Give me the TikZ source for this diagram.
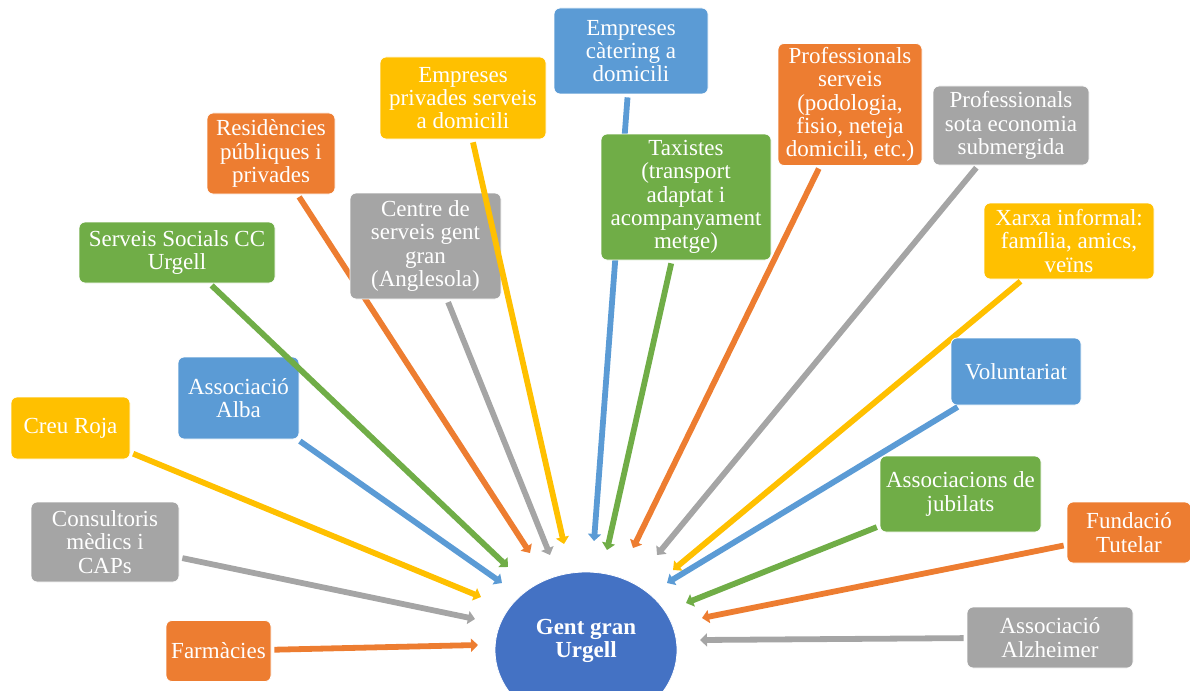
\documentclass[tikz,border=0pt]{standalone}
\usepackage{fontspec}
\setmainfont{Liberation Serif}
\usetikzlibrary{arrows.meta,shapes.geometric}
\definecolor{cOrange}{HTML}{ED7D31}
\definecolor{cGray}{HTML}{A5A5A5}
\definecolor{cYellow}{HTML}{FFC000}
\definecolor{cBlue}{HTML}{5B9BD5}
\definecolor{cGreen}{HTML}{70AD47}
\definecolor{cCenter}{HTML}{4472C4}
\tikzset{
  box/.style={rectangle, rounded corners=6pt, fill=#1, draw=white, line width=0.8pt,
    text=white, align=center, inner sep=0pt,
    font=\fontsize{23}{23.3}\selectfont},
  arr/.style={draw=#1, line width=5.8pt, shorten <=3pt,
    -{Triangle[width=13pt,length=7pt]}},
}
\begin{document}
\begin{tikzpicture}[x=1pt,y=-1pt]
\useasboundingbox (0,0) rectangle (1190,690);
% tips
\coordinate (tFarm) at (478,645);
\coordinate (tCons) at (475,619);
\coordinate (tCreu) at (481,597);
\coordinate (tAlba) at (502,583);
\coordinate (tSoc) at (508,567);
\coordinate (tRes) at (530,553);
\coordinate (tCen) at (550,555);
\coordinate (tPriv) at (564,544);
\coordinate (tCat) at (594,541);
\coordinate (tTaxi) at (607,550);
\coordinate (tProf) at (633,548);
\coordinate (tSub) at (657,555);
\coordinate (tXar) at (673,570);
\coordinate (tVol) at (667,583);
\coordinate (tJub) at (686,603);
\coordinate (tFun) at (702,618);
\coordinate (tAlz) at (700,640);

\node[box=cOrange, minimum width=105pt, minimum height=61pt] (farm) at (218.5,651) {Farmàcies};
\draw[arr=cOrange] (farm) -- (tFarm);
\node[box=cGray, minimum width=148pt, minimum height=80pt] (cons) at (105,542) {Consultoris\\mèdics i\\CAPs};
\draw[arr=cGray] (cons) -- (tCons);
\node[box=cYellow, minimum width=119pt, minimum height=62pt] (creu) at (70.5,428) {Creu Roja};
\draw[arr=cYellow] (creu) -- (tCreu);
\node[box=cBlue, minimum width=121pt, minimum height=82pt] (alba) at (238.5,398) {Associació\\Alba};
\draw[arr=cBlue] (alba) -- (tAlba);
\node[box=cGreen, minimum width=196pt, minimum height=61pt] (soc) at (177,252.5) {Serveis Socials CC\\Urgell};
\draw[arr=cGreen] (soc) -- (tSoc);
\node[box=cOrange, minimum width=128pt, minimum height=81pt] (res) at (271,153.5) {Residències\\públiques i\\privades};
\draw[arr=cOrange] (res) -- (tRes);
\node[box=cGray, minimum width=151pt, minimum height=106pt] (cen) at (425.5,246) {Centre de\\serveis gent\\gran\\(Anglesola)};
\draw[arr=cGray] (cen) -- (tCen);
\node[box=cYellow, minimum width=166pt, minimum height=82pt] (priv) at (463,98) {Empreses\\privades serveis\\a domicili};
\draw[arr=cYellow] (priv) -- (tPriv);
\node[box=cBlue, minimum width=154pt, minimum height=86pt] (cat) at (631,51) {Empreses\\càtering a\\domicili};
\draw[arr=cBlue] (cat) -- (tCat);
\node[box=cGreen, minimum width=170pt, minimum height=126pt] (taxi) at (686,197) {Taxistes\\(transport\\adaptat i\\acompanyament\\metge)};
\draw[arr=cGreen] (taxi) -- (tTaxi);
\node[box=cOrange, minimum width=144pt, minimum height=122pt] (prof) at (850,104.5) {Professionals\\serveis\\(podologia,\\fisio, neteja\\domicili, etc.)};
\draw[arr=cOrange] (prof) -- (tProf);
\node[box=cGray, minimum width=156pt, minimum height=79pt] (sub) at (1011,125.5) {Professionals\\sota economia\\submergida};
\draw[arr=cGray] (sub) -- (tSub);
\node[box=cYellow, minimum width=170pt, minimum height=76pt] (xar) at (1069,241) {Xarxa informal:\\família, amics,\\veïns};
\draw[arr=cYellow] (xar) -- (tXar);
\node[box=cBlue, minimum width=130pt, minimum height=67pt] (vol) at (1016,371.5) {Voluntariat};
\draw[arr=cBlue] (vol) -- (tVol);
\node[box=cGreen, minimum width=161pt, minimum height=76pt] (jub) at (960.5,494) {Associacions de\\jubilats};
\draw[arr=cGreen] (jub) -- (tJub);
\node[box=cOrange, minimum width=124pt, minimum height=61pt] (fun) at (1129,532.5) {Fundació\\Tutelar};
\draw[arr=cOrange] (fun) -- (tFun);
\node[box=cGray, minimum width=166pt, minimum height=61pt] (alz) at (1050,637.5) {Associació\\Alzheimer};
\draw[arr=cGray] (alz) -- (tAlz);

\node[ellipse, fill=cCenter, draw=white, line width=0.8pt, minimum width=182pt, minimum height=156pt] (gg) at (586,650) {};
\node[text=white, align=center, font=\fontsize{23}{23}\selectfont\bfseries] (ggtext) at (586,641) {Gent gran\\Urgell};
\end{tikzpicture}
\end{document}
